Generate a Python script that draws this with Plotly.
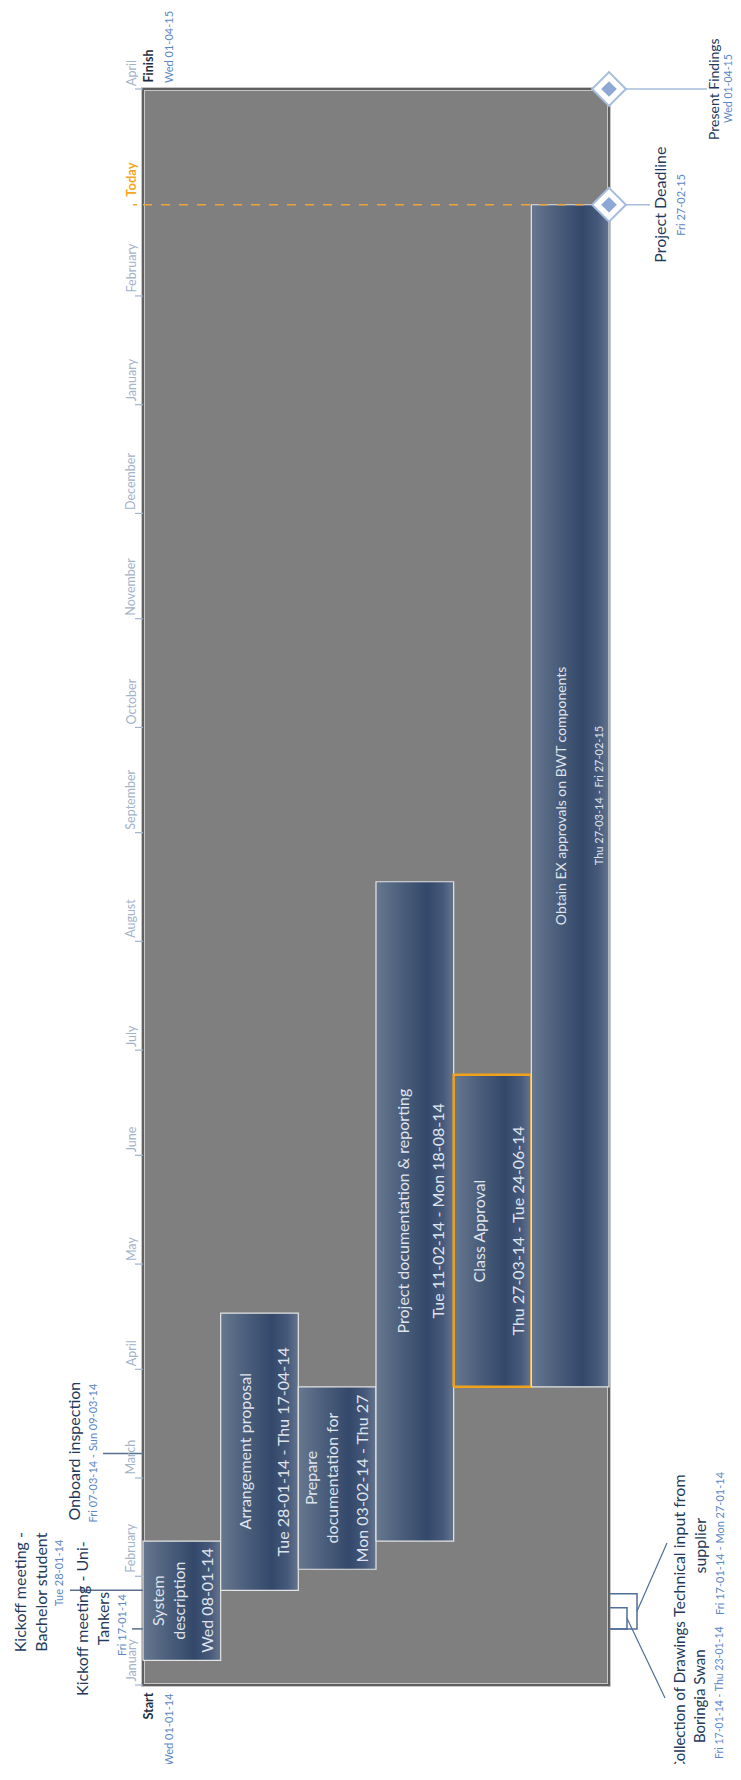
import plotly.graph_objects as go
import pandas as pd

# ---------------- data ----------------
timeline_start = "2014-01-01"
timeline_finish = "2015-04-01"
today = "2015-02-27"
start_label = "Wed 01-01-14"
finish_label = "Wed 01-04-15"

task_titles = ["System<br>description", "Arrangement proposal", "Prepare<br>documentation for",
               "Project documentation & reporting", "Class Approval",
               "Obtain EX approvals on BWT components"]
task_date_labels = ["Wed 08-01-14", "Tue 28-01-14 - Thu 17-04-14", "Mon 03-02-14 - Thu 27",
                    "Tue 11-02-14 - Mon 18-08-14", "Thu 27-03-14 - Tue 24-06-14",
                    "Thu 27-03-14 - Fri 27-02-15"]
task_start = ["2014-01-08", "2014-01-28", "2014-02-03", "2014-02-11", "2014-03-27", "2014-03-27"]
task_end = ["2014-02-11", "2014-04-17", "2014-03-27", "2014-08-18", "2014-06-24", "2015-02-27"]
task_highlight = [False, False, False, False, True, False]

milestone_titles = ["Project Deadline", "Present Findings"]
milestone_dates = ["2015-02-27", "2015-04-01"]
milestone_date_labels = ["Fri 27-02-15", "Wed 01-04-15"]

left_event_titles = ["Kickoff meeting -<br>Bachelor student", "Kickoff meeting - Uni-<br>Tankers",
                     "Onboard inspection"]
left_event_start = ["2014-01-28", "2014-01-17", "2014-03-07"]
left_event_end = ["2014-01-28", "2014-01-17", "2014-03-09"]
left_event_date_labels = ["Tue 28-01-14", "Fri 17-01-14", "Fri 07-03-14 - Sun 09-03-14"]

right_task_titles = ["Technical input from<br>supplier", "Collection of Drawings<br>Boringia Swan"]
right_task_start = ["2014-01-17", "2014-01-17"]
right_task_end = ["2014-01-27", "2014-01-23"]
right_task_date_labels = ["Fri 17-01-14 - Mon 27-01-14", "Fri 17-01-14 - Thu 23-01-14"]

month_starts = pd.date_range(timeline_start, timeline_finish, freq="MS")
hidden_months = [pd.Timestamp("2015-03-01")]  # hidden behind the Today marker

# ---------------- layout helpers ----------------
PAGE_OFF = 8                 # page body margin
W, H = 741 - PAGE_OFF, 1780 - 2 * PAGE_OFF - 8
BOX_L, BOX_R, BOX_TOP, BOX_BOT = 143, 609, 89, 1685   # page pixel units
FONT = "Lato"
TITLE_C = "#23395a"
DATE_C = "#5b87c5"
t0, t1 = pd.Timestamp(timeline_start), pd.Timestamp(timeline_finish)
ppd = (BOX_BOT - BOX_TOP) / (t1 - t0).days


def fmt(ts):
    return pd.Timestamp(ts).strftime("%Y-%m-%d %H:%M:%S")


def px2date(py):
    return fmt(t0 + pd.Timedelta(days=(BOX_BOT - py) / ppd))


def mid(a, b):
    a, b = pd.Timestamp(a), pd.Timestamp(b)
    return fmt(a + (b - a) / 2)


fig = go.Figure()
annotations = []


def ann(text, x, y, size, color, xanchor="center", yanchor="middle", yshift=0, bold=False):
    if bold:
        text = "<b>" + text + "</b>"
    annotations.append(dict(text=text, x=x, y=y, xref="x", yref="y", showarrow=False,
                            textangle=-90, xanchor=xanchor, yanchor=yanchor, yshift=yshift,
                            font=dict(family=FONT, size=size, color=color), align="center"))


def line(xs, ys, color, width=1.5, dash="solid"):
    fig.add_trace(go.Scatter(x=xs, y=ys, mode="lines", line=dict(color=color, width=width, dash=dash),
                             hoverinfo="skip", showlegend=False))


# background timeline box
shapes = [
    dict(type="rect", xref="x", yref="y", x0=BOX_L, x1=BOX_R, y0=fmt(t0), y1=fmt(t1),
         fillcolor="#7f7f7f", line=dict(color="#c6c6c6", width=4), layer="below"),
    dict(type="rect", xref="x", yref="y", x0=BOX_L, x1=BOX_R, y0=fmt(t0), y1=fmt(t1),
         fillcolor="rgba(0,0,0,0)", line=dict(color="#5f5f5f", width=2), layer="below"),
]

# month ticks and labels
MONTH_C = "#a3b3ca"
tx, ty = [], []
for m in month_starts:
    if m in hidden_months:
        continue
    tx += [135, BOX_L, None]
    ty += [fmt(m), fmt(m), None]
    ann(m.strftime("%B"), 131, fmt(m), 12.5, MONTH_C, yanchor="bottom", yshift=1)
line(tx, ty, MONTH_C, 1.2)

# task bars
COL_W = (BOX_R - BOX_L) / len(task_titles)
title_off = [25, 24, 23, 26, 25, 29]
date_off = [64, 62, 63, 61, 64, 67]
title_size = [16, 16, 16, 16, 16, 14]
date_size = [16, 16, 16, 16, 16, 11]
grad = [[0, "#67788f"], [0.3, "#4d607d"], [0.66, "#33486a"], [0.86, "#46597b"], [1, "#64758f"]]
for i in range(len(task_titles)):
    x0 = BOX_L + i * COL_W
    x1 = x0 + COL_W
    s, e = fmt(task_start[i]), fmt(task_end[i])
    fig.add_trace(go.Scatter(
        x=[x0, x1, x1, x0, x0], y=[s, s, e, e, s], mode="lines", fill="toself",
        fillgradient=dict(type="horizontal", colorscale=grad),
        line=dict(color="#f0a21c" if task_highlight[i] else "#e4e4e4",
                  width=2.5 if task_highlight[i] else 1.2),
        hoverinfo="skip", showlegend=False))
    yc = mid(task_start[i], task_end[i])
    ann(task_titles[i], x0 + title_off[i], yc, title_size[i], "#dfe4ec")
    ann(task_date_labels[i], x0 + date_off[i], yc, date_size[i], "#dfe4ec")

# today line
line([BOX_L, 597], [fmt(today), fmt(today)], "#efa43a", 1.5, "dash")
line([133, 137], [fmt(today), fmt(today)], "#efa43a", 1.5)
ann("Today", 131, fmt(today), 13, "#f5a623", yanchor="bottom", yshift=6, bold=True)

# start / finish
ann("Start", 148, fmt(t0), 12.5, "#1f2d40", yanchor="top", yshift=-6, bold=True)
ann(start_label, 168, fmt(t0), 11, DATE_C, yanchor="top", yshift=-6)
ann("Finish", 148, fmt(t1), 12.5, "#1f2d40", yanchor="bottom", yshift=4, bold=True)
ann(finish_label, 168, fmt(t1), 11, DATE_C, yanchor="bottom", yshift=4)

# left events
LEFT_C = "#5a6f8e"
left_line_x0 = [70, 132, 103]
left_title_x = [30, 92, 73]
left_date_x = [58, 122, 92]
left_title_shift = [-2, 10, 2]
left_date_shift = [17, 4, 0]
for i in range(len(left_event_titles)):
    yc = mid(left_event_start[i], left_event_end[i])
    line([left_line_x0[i], BOX_L], [yc, yc], LEFT_C, 1.5)
    ann(left_event_titles[i], left_title_x[i], yc, 16, TITLE_C, yshift=left_title_shift[i])
    ann(left_event_date_labels[i], left_date_x[i], yc, 11, DATE_C, yshift=left_date_shift[i])

# right brackets
BR_C = "#4f6e98"
br_x = [637, 627]
leader_end = [(667, 1543), (665, 1698)]
title_center = [1546, 1696]
date_center = [1543, 1693]
right_title_size = [16, 15]
right_date_size = [11, 10.5]
for i in range(len(right_task_titles)):
    s, e = fmt(right_task_start[i]), fmt(right_task_end[i])
    line([BOX_R, br_x[i], br_x[i], BOX_R], [e, e, s, s], BR_C, 1.5)
    ym = mid(right_task_start[i], right_task_end[i])
    line([br_x[i], leader_end[i][0]], [ym, px2date(leader_end[i][1])], BR_C, 1.2)
    ann(right_task_titles[i], 689, px2date(title_center[i]), right_title_size[i], TITLE_C)
    ann(right_task_date_labels[i], 719, px2date(date_center[i]), right_date_size[i], DATE_C)

# milestones
MS_C = "#a6bcdd"
ms_line_end = [650, 707]
ms_title_x = [660, 713]
ms_date_x = [681, 728]
ms_title_size = [16, 14]
ms_date_size = [11, 10.5]
for i in range(len(milestone_titles)):
    yd = fmt(milestone_dates[i])
    line([BOX_R, ms_line_end[i]], [yd, yd], MS_C, 1.5)
    fig.add_trace(go.Scatter(x=[BOX_R], y=[yd], mode="markers",
                             marker=dict(symbol="diamond", size=26, color="white",
                                         line=dict(color=MS_C, width=2)),
                             hoverinfo="skip", showlegend=False))
    fig.add_trace(go.Scatter(x=[BOX_R], y=[yd], mode="markers",
                             marker=dict(symbol="diamond", size=12, color="#8da8d4",
                                         line=dict(width=0)),
                             hoverinfo="skip", showlegend=False))
    ann(milestone_titles[i], ms_title_x[i], yd, ms_title_size[i], TITLE_C)
    ann(milestone_date_labels[i], ms_date_x[i], yd, ms_date_size[i], DATE_C)

fig.update_layout(
    width=W, height=H, autosize=False,
    margin=dict(l=0, r=0, t=0, b=0, pad=0),
    paper_bgcolor="white", plot_bgcolor="white",
    showlegend=False, hovermode=False,
    xaxis=dict(range=[PAGE_OFF, PAGE_OFF + W], visible=False, fixedrange=True),
    yaxis=dict(type="date", range=[px2date(PAGE_OFF + H), px2date(PAGE_OFF)],
               visible=False, fixedrange=True),
    shapes=shapes, annotations=annotations,
)

fig.write_html("out.html")
